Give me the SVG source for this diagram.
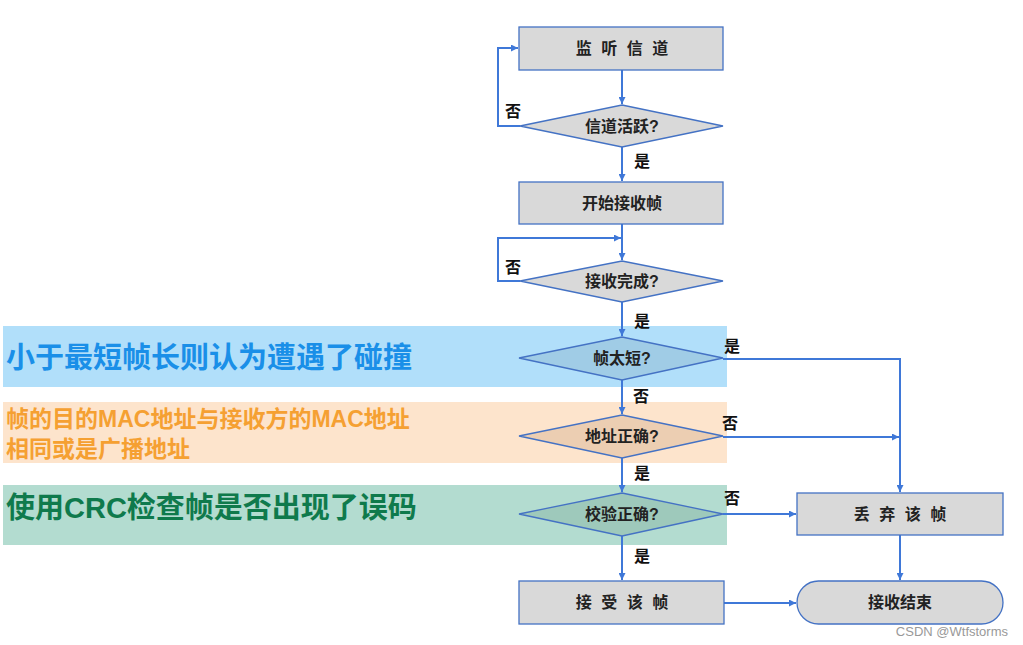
<svg xmlns="http://www.w3.org/2000/svg" width="1023" height="645" viewBox="0 0 1023 645">
<defs>
<marker id="arr" viewBox="0 0 10 10" refX="10" refY="5" markerWidth="7" markerHeight="7" markerUnits="userSpaceOnUse" orient="auto">
<path d="M0,0 L10,5 L0,10 z" fill="#3f78d8"/>
</marker>
<style>
.box{fill:#d9d9d9;stroke:#4472c4;stroke-width:1.3}
.dia{stroke:#4472c4;stroke-width:1.3}
.t{font-family:"Liberation Sans","Noto Sans CJK SC",sans-serif;font-weight:bold;font-size:16px;text-anchor:middle;fill:#222}
.sp{word-spacing:5px}
.lab{font-family:"Noto Sans CJK SC",sans-serif;font-weight:bold;font-size:16px;fill:#111}
.con{fill:none;stroke:#3f78d8;stroke-width:2}
.note{font-family:"Liberation Sans","Noto Sans CJK SC",sans-serif;font-weight:bold}
</style>
</defs>
<rect width="1023" height="645" fill="#ffffff"/>
<g id="bands">
<rect x="3" y="326" width="724" height="61" fill="#b1dffa"/>
<rect x="3" y="402" width="724" height="61" fill="#fde4cc"/>
<rect x="3" y="485" width="724" height="60" fill="#b3dcd0"/>
<text class="note" x="6" y="368" font-size="29" fill="#1a8fe8">小于最短帧长则认为遭遇了碰撞</text>
<text class="note" x="6" y="427" font-size="23" fill="#f5a032">帧的目的MAC地址与接收方的MAC地址</text>
<text class="note" x="6" y="457" font-size="23" fill="#f5a032">相同或是广播地址</text>
<text class="note" x="6" y="518" font-size="29" fill="#0f7a4c">使用CRC检查帧是否出现了误码</text>
</g>
<g id="connectors">
<path class="con" d="M622,70 L622,104" marker-end="url(#arr)"/>
<path class="con" d="M520,126 L498,126 L498,48 L518,48" marker-end="url(#arr)"/>
<path class="con" d="M622,147 L622,181" marker-end="url(#arr)"/>
<path class="con" d="M622,224 L622,260" marker-end="url(#arr)"/>
<path class="con" d="M520,281 L498,281 L498,238 L621,238" marker-end="url(#arr)"/>
<path class="con" d="M622,302 L622,336" marker-end="url(#arr)"/>
<path class="con" d="M723,359 L900,359 L900,492" marker-end="url(#arr)"/>
<path class="con" d="M622,380 L622,414" marker-end="url(#arr)"/>
<path class="con" d="M723,437 L899,437" marker-end="url(#arr)"/>
<path class="con" d="M622,458 L622,492" marker-end="url(#arr)"/>
<path class="con" d="M723,514 L796,514" marker-end="url(#arr)"/>
<path class="con" d="M622,536 L622,580" marker-end="url(#arr)"/>
<path class="con" d="M900,535 L900,580" marker-end="url(#arr)"/>
<path class="con" d="M724,603 L796,603" marker-end="url(#arr)"/>
<text class="lab" x="505" y="117">否</text>
<text class="lab" x="634" y="167">是</text>
<text class="lab" x="505" y="273">否</text>
<text class="lab" x="634" y="327">是</text>
<text class="lab" x="724" y="352">是</text>
<text class="lab" x="633" y="402">否</text>
<text class="lab" x="722" y="429">否</text>
<text class="lab" x="634" y="479">是</text>
<text class="lab" x="724" y="504">否</text>
<text class="lab" x="634" y="562">是</text>
</g>
<g id="n1"><rect class="box" x="519" y="27" width="204" height="43"/><text class="t sp" x="622" y="54">监 听 信 道</text></g>
<g id="n2"><polygon class="dia" fill="#d9d9d9" points="622,105 723,126 622,147 520,126"/><text class="t" x="622" y="132">信道活跃?</text></g>
<g id="n3"><rect class="box" x="519" y="182" width="204" height="42"/><text class="t" x="622" y="209">开始接收帧</text></g>
<g id="n4"><polygon class="dia" fill="#d9d9d9" points="622,261 723,281 622,302 520,281"/><text class="t" x="622" y="287">接收完成?</text></g>
<g id="n5"><polygon class="dia" fill="#a0cce6" points="622,337 723,358 622,380 519,358"/><text class="t" x="622" y="364" fill="#1f3a55">帧太短?</text></g>
<g id="n6"><polygon class="dia" fill="#ecceb2" points="622,415 723,436 622,458 519,436"/><text class="t" x="622" y="442" fill="#4a3320">地址正确?</text></g>
<g id="n7"><polygon class="dia" fill="#9ec9bb" points="622,493 723,514 622,536 519,514"/><text class="t" x="622" y="520" fill="#163a30">校验正确?</text></g>
<g id="n8"><rect class="box" x="519" y="581" width="205" height="43"/><text class="t sp" x="622" y="608">接 受 该 帧</text></g>
<g id="n9"><rect class="box" x="797" y="493" width="206" height="42"/><text class="t sp" x="900" y="520">丢 弃 该 帧</text></g>
<g id="n10"><rect class="box" x="797" y="581" width="206" height="43" rx="21.5" ry="21.5"/><text class="t" x="900" y="608">接收结束</text></g>
<text x="1008" y="636" font-family="Liberation Sans, sans-serif" font-size="13" fill="#999" text-anchor="end">CSDN @Wtfstorms</text>
</svg>
